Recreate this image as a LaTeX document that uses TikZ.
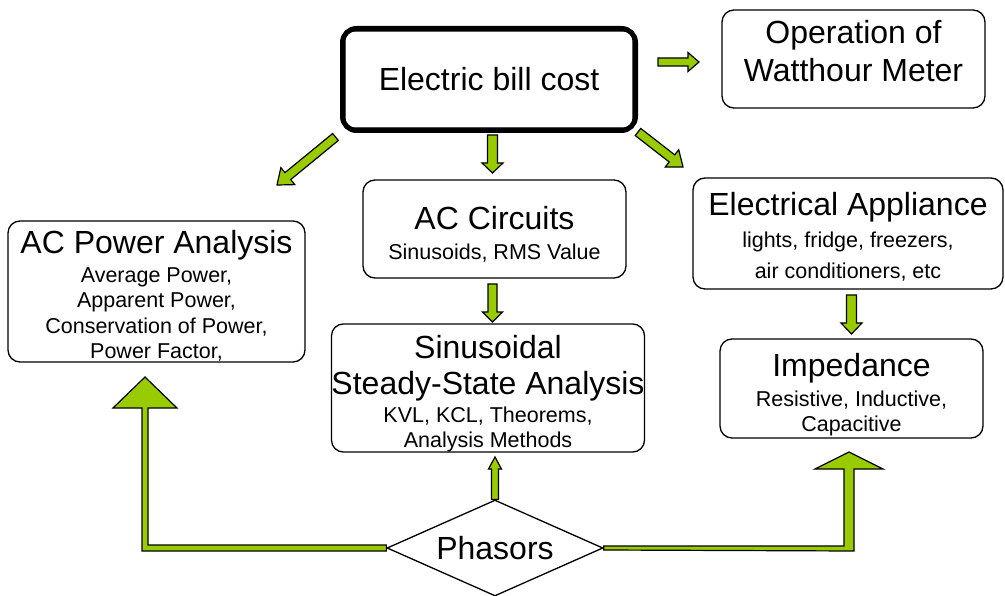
\documentclass[tikz,border=0pt]{standalone}
\usepackage{fontspec}
\setmainfont{Liberation Sans}
\usetikzlibrary{calc,shapes.geometric}
\definecolor{agreen}{HTML}{99CC00}
\newcommand\ttlf{\fontsize{32}{37}\selectfont}
\newcommand\subf{\fontsize{21.5}{25.4}\selectfont}
\newcommand\tstrut[1]{\rule{0pt}{#1}}
\newcommand\barrow[5]{%
  \path ($(#2)!#5!(#1)$) coordinate (hb);
  \filldraw[garrow] ($(#1)!#3!90:(#2)$) -- ($(hb)!#3!90:(#2)$) -- ($(hb)!#4!90:(#2)$) -- (#2)
     -- ($(hb)!#4!-90:(#2)$) -- ($(hb)!#3!-90:(#2)$) -- ($(#1)!#3!-90:(#2)$) -- cycle;}
\begin{document}
\begin{tikzpicture}[x=1pt,y=-1pt,
  box/.style={draw, fill=white, rounded corners=12pt, line width=1.3pt, align=center, inner sep=0pt, font=\subf},
  garrow/.style={fill=agreen, draw=black, line width=1.2pt, line join=miter}]
\useasboundingbox (0,0) rectangle (1005,596);

% nodes
\node[box, minimum width=293pt, minimum height=102pt, line width=5pt, rounded corners=14pt, font=\ttlf] (ebc) at (489,79.5) {Electric bill cost};
\draw[line width=1.3pt, rounded corners=9pt] ($(ebc.north west)+(5,5)$) rectangle ($(ebc.south east)+(-5,-5)$);

\node[box, minimum width=263pt, minimum height=98pt, font=\fontsize{32}{38}\selectfont] (owm) at (853.5,59) {Operation of\\Watthour Meter\rule[-16pt]{0pt}{16pt}};

\node[box, minimum width=263pt, minimum height=98pt] (acc) at (494.5,229) {{\ttlf\tstrut{33.5pt}AC Circuits}\\[4pt]Sinusoids, RMS Value};

\node[box, minimum width=297pt, minimum height=141pt] (acp) at (156.5,291.5) {{\ttlf\tstrut{31.5pt}AC Power Analysis}\\[4pt]Average Power,\\Apparent Power,\\Conservation of Power,\\Power Factor,};

\node[box, minimum width=310pt, minimum height=111pt] (ela) at (848,233.5) {{\ttlf\tstrut{30.5pt}Electrical Appliance}\\[6pt]lights, fridge, freezers,\\[6pt]air conditioners, etc};

\node[box, minimum width=312pt, minimum height=126pt] (sss) at (488,388) {{\ttlf\tstrut{34.5pt}Sinusoidal}\\[11pt]{\ttlf Steady-State Analysis}\\[2pt]KVL, KCL, Theorems,\\Analysis Methods};

\node[box, minimum width=263pt, minimum height=99pt] (imp) at (851.5,388.5) {{\ttlf\tstrut{35.5pt}Impedance}\\[4pt]Resistive, Inductive,\\Capacitive};

\node[diamond, draw, fill=white, line width=1.3pt, minimum width=216pt, minimum height=96pt, aspect=2.25, inner sep=0pt, font=\ttlf] (ph) at (495,548) {Phasors};

% arrow end points
\coordinate (a1s) at (658,62);   \coordinate (a1e) at (699,62);
\coordinate (a2s) at (492.5,135); \coordinate (a2e) at (492.5,173);
\coordinate (a3s) at (335.5,137); \coordinate (a3e) at (277,185);
\coordinate (a4s) at (638,132);  \coordinate (a4e) at (683,167);
\coordinate (a5s) at (492.5,284); \coordinate (a5e) at (492.5,322);
\coordinate (a6s) at (851.5,295); \coordinate (a6e) at (851.5,334);
\coordinate (a7e) at (495,457);

\barrow{a1s}{a1e}{4pt}{9.5pt}{11pt}
\barrow{a2s}{a2e}{5pt}{10.5pt}{10pt}
\barrow{a3s}{a3e}{4.5pt}{11pt}{14pt}
\barrow{a4s}{a4e}{4.5pt}{11pt}{14pt}
\barrow{a5s}{a5e}{4.5pt}{10pt}{10pt}
\barrow{a6s}{a6e}{5pt}{10.5pt}{11pt}
\barrow{ph.north}{a7e}{3.5pt}{6.5pt}{12pt}

% L-shaped arrows from Phasors
\coordinate (tipL) at (145,377);
\coordinate (tipR) at (849,452);
\filldraw[garrow] ($(ph.west)+(0,-3)$) -- (148,545) -- (148,408) -- (177,408) -- (tipL)
  -- (113,408) -- (142,408) -- (142,551) -- ($(ph.west)+(0,3)$) -- cycle;
\filldraw[garrow] ($(ph.east)+(0,-2)$) -- (844,546) -- (844,469) -- (815,469) -- (tipR)
  -- (883,469) -- (854,469) -- (854,551) -- ($(ph.east)+(0,2)$) -- cycle;
\end{tikzpicture}
\end{document}
